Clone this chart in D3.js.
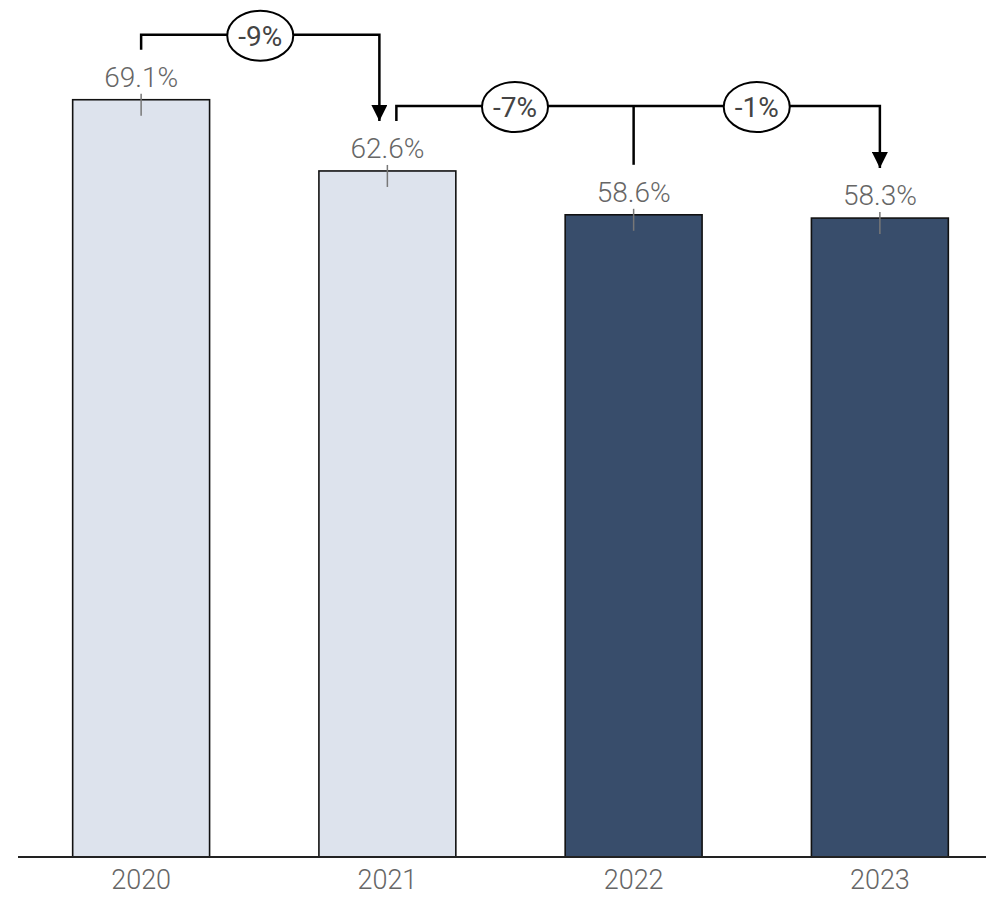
<!DOCTYPE html>
<html>
<head>
<meta charset="utf-8">
<script src="https://cdn.jsdelivr.net/npm/d3@7/dist/d3.min.js"></script>
<style>
  html, body { margin: 0; padding: 0; background: #fff; }
  svg { display: block; }
</style>
</head>
<body>
<div id="chart"></div>
<script>
const years = ["2020", "2021", "2022", "2023"];
const values = [69.1, 62.6, 58.6, 58.3];
const valueLabels = ["69.1%", "62.6%", "58.6%", "58.3%"];
const barColors = ["#dde3ed", "#dde3ed", "#384d6b", "#384d6b"];
const changeLabels = ["-9%", "-7%", "-1%"];

const W = 986, H = 898;
const svg = d3.select("#chart").append("svg").attr("width", W).attr("height", H);

const x = d3.scaleBand().domain(years).range([18, 1003]).paddingInner(0.444).paddingOuter(0.222);
const y = d3.scaleLinear().domain([0, d3.max(values) * 1.1]).range([857, 24]);

const cx = i => x(years[i]) + x.bandwidth() / 2;
const barTop = i => y(values[i]);

// bars
svg.selectAll("rect.bar").data(years).join("rect")
  .attr("class", "bar")
  .attr("x", d => x(d))
  .attr("y", (d, i) => y(values[i]))
  .attr("width", x.bandwidth())
  .attr("height", (d, i) => y(0) - y(values[i]))
  .attr("fill", (d, i) => barColors[i])
  .attr("stroke", "#111")
  .attr("stroke-width", 1.6);

// axis
const xAxis = d3.axisBottom(x).tickSize(0).tickPadding(13);
const gx = svg.append("g").attr("transform", `translate(0,${y(0)})`).call(xAxis);
gx.select(".domain").remove();
gx.selectAll("text")
  .attr("font-family", "Roboto, sans-serif")
  .attr("font-weight", 300)
  .attr("font-size", 27)
  .attr("fill", "#666")
  .attr("dy", "0.71em");
svg.append("line").attr("x1", 18).attr("x2", 986).attr("y1", y(0)).attr("y2", y(0))
  .attr("stroke", "#222").attr("stroke-width", 2);

// value labels and small ticks
svg.selectAll("line.vtick").data(years).join("line")
  .attr("class", "vtick")
  .attr("x1", (d, i) => cx(i)).attr("x2", (d, i) => cx(i))
  .attr("y1", (d, i) => barTop(i) - 6).attr("y2", (d, i) => barTop(i) + 16)
  .attr("stroke", "#777").attr("stroke-width", 1.5);
svg.selectAll("text.vlabel").data(years).join("text")
  .attr("class", "vlabel")
  .attr("x", (d, i) => cx(i))
  .attr("y", (d, i) => barTop(i) - 13)
  .attr("text-anchor", "middle")
  .attr("font-family", "Roboto, sans-serif")
  .attr("font-weight", 300)
  .attr("font-size", 28)
  .attr("fill", "#666")
  .text((d, i) => valueLabels[i]);

// arrowhead
svg.append("defs").append("marker")
  .attr("id", "arrow").attr("viewBox", "0 0 16 16")
  .attr("refX", 16).attr("refY", 8)
  .attr("markerWidth", 16).attr("markerHeight", 16)
  .attr("markerUnits", "userSpaceOnUse")
  .attr("orient", "auto")
  .append("path").attr("d", "M0,0 L16,8 L0,16 Z").attr("fill", "#000");

function applyStroke(sel) {
  return sel.attr("stroke", "#000").attr("stroke-width", 2.5).attr("fill", "none");
}

function ellipse(xc, yc, label) {
  svg.append("ellipse").attr("cx", xc).attr("cy", yc + 1).attr("rx", 33).attr("ry", 25)
    .attr("fill", "#fff").attr("stroke", "#000").attr("stroke-width", 2);
  svg.append("text").attr("x", xc).attr("y", yc + 1).attr("dy", "0.36em")
    .attr("text-anchor", "middle")
    .attr("font-family", "Roboto, sans-serif")
    .attr("font-size", 28)
    .attr("fill", "#444")
    .text(label);
}

// bracket 1: 2020 -> 2021
{
  const lvl = barTop(0) - 65;
  const xs = cx(0), xe = cx(1) - 8;
  applyStroke(svg.append("path"))
    .attr("d", `M${xs},${barTop(0) - 50} V${lvl} H${xe} V${barTop(1) - 50}`)
    .attr("marker-end", "url(#arrow)");
  ellipse((xs + xe) / 2, lvl, changeLabels[0]);
}
// bracket 2: 2021 -> 2022 -> 2023
{
  const lvl = barTop(1) - 65;
  const xs = cx(1) + 9, xm = cx(2), xe = cx(3);
  applyStroke(svg.append("path"))
    .attr("d", `M${xs},${barTop(1) - 50} V${lvl} H${xe} V${barTop(3) - 50}`)
    .attr("marker-end", "url(#arrow)");
  applyStroke(svg.append("path"))
    .attr("d", `M${xm},${lvl} V${barTop(2) - 50}`);
  ellipse((xs + xm) / 2, lvl, changeLabels[1]);
  ellipse((xm + xe) / 2, lvl, changeLabels[2]);
}
</script>
</body>
</html>
